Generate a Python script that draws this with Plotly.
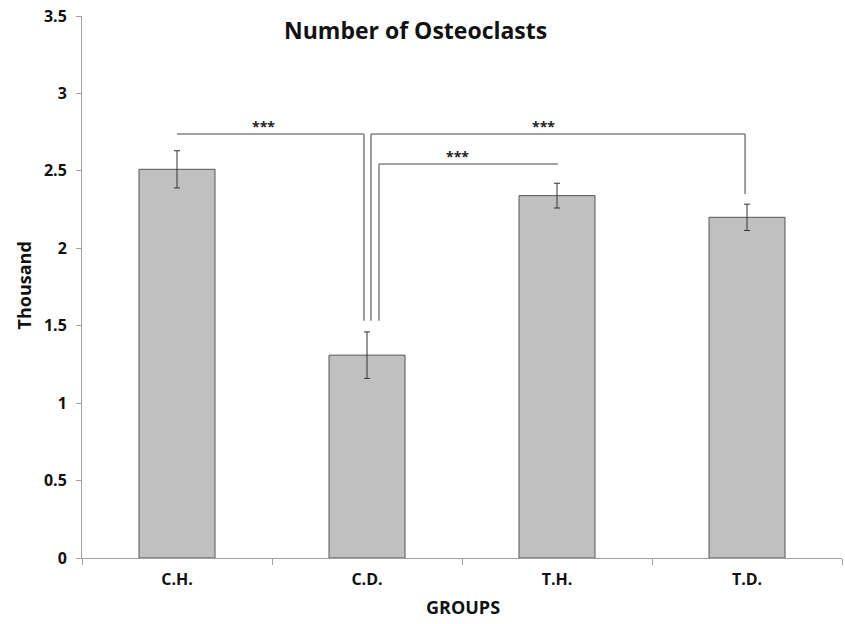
import plotly.graph_objects as go

groups = ["C.H.", "C.D.", "T.H.", "T.D."]
values = [2.51, 1.31, 2.34, 2.20]
errors = [0.12, 0.15, 0.08, 0.085]
y_ticks = [0, 0.5, 1, 1.5, 2, 2.5, 3, 3.5]
y_tick_labels = ["0", "0.5", "1", "1.5", "2", "2.5", "3", "3.5"]

# significance brackets
brk_from = [0, 1, 1]
brk_to = [1, 3, 2]
brk_height = [2.738, 2.738, 2.544]
brk_low_from = [None, 1.532, 1.532]
brk_low_to = [1.532, 2.35, None]
brk_label = ["***", "***", "***"]

W, H = 845, 624
L, R, T, B = 82, 3, 16, 66

fig = go.Figure()
fig.add_trace(go.Bar(
    x=groups, y=values,
    width=0.4,
    marker=dict(color="#c0c0c0", line=dict(color="#555555", width=1)),
    error_y=dict(type="data", array=errors, visible=True, color="#333333", thickness=1, width=3),
    showlegend=False,
))

line_style = dict(color="#858585", width=1.6)
off_from = [0.0, 0.021, 0.063]
off_to = [-0.016, -0.01, 0.005]
star_x_shift = [-0.039, -0.079, -0.06]
for i in range(len(brk_from)):
    xa = brk_from[i] + off_from[i]
    xb = brk_to[i] + off_to[i]
    h = brk_height[i]
    fig.add_shape(type="line", x0=xa, x1=xb, y0=h, y1=h, xref="x", yref="y", line=line_style)
    if brk_low_from[i] is not None:
        fig.add_shape(type="line", x0=xa, x1=xa, y0=h, y1=brk_low_from[i], xref="x", yref="y", line=line_style)
    if brk_low_to[i] is not None:
        fig.add_shape(type="line", x0=xb, x1=xb, y0=h, y1=brk_low_to[i], xref="x", yref="y", line=line_style)
    fig.add_annotation(x=(xa + xb) / 2 + star_x_shift[i], y=h, text="<b>" + brk_label[i] + "</b>",
                       showarrow=False, yanchor="middle", yshift=8, xref="x", yref="y",
                       font=dict(family="Open Sans", size=14, color="#222222"))

pw = W - L - R
ph = H - T - B


def px_x(px):
    return (px - L) / pw


def px_y(py):
    return (H - B - py) / ph


fig.add_annotation(x=px_x(415), y=px_y(30), xref="paper", yref="paper", text="<b>Number of Osteoclasts</b>",
                   showarrow=False, xanchor="center", yanchor="middle",
                   font=dict(family="Open Sans", size=23, color="#111111"))
fig.add_annotation(x=px_x(463), y=px_y(607), xref="paper", yref="paper", text="<b>GROUPS</b>",
                   showarrow=False, xanchor="center", yanchor="middle",
                   font=dict(family="Open Sans", size=18, color="#111111"))
fig.add_annotation(x=px_x(23.5), y=px_y(286), xref="paper", yref="paper", text="<b>Thousand</b>",
                   showarrow=False, xanchor="center", yanchor="middle", textangle=-90,
                   font=dict(family="Open Sans", size=18, color="#111111"))

fig.update_layout(
    width=W, height=H,
    margin=dict(l=L, r=R, t=T, b=B, autoexpand=False),
    paper_bgcolor="white", plot_bgcolor="white",
    font=dict(family="Open Sans", color="#111111"),
)

fig.update_xaxes(
    showline=True, linecolor="#a0a0a0", linewidth=1,
    ticks="outside", tickson="boundaries", ticklen=6, tickcolor="#a0a0a0",
    tickfont=dict(family="Open Sans", size=16, color="#111111"),
    tickvals=groups, ticktext=["<b>" + g + "</b>" for g in groups],
    ticklabelstandoff=7,
    showgrid=False, range=[-0.5, 3.5],
)
fig.update_yaxes(
    range=[0, 3.5], tickvals=y_ticks, ticktext=["<b>" + t + "</b>" for t in y_tick_labels],
    showline=True, linecolor="#a0a0a0", linewidth=1,
    ticks="outside", ticklen=5, tickcolor="#a0a0a0",
    tickfont=dict(family="Open Sans", size=16, color="#111111"),
    ticklabelstandoff=6,
    showgrid=False, zeroline=False,
)

fig.write_html("out.html",
               config={"displayModeBar": False},
               post_script="document.body.style.margin='0';document.body.style.padding='0';"
                           "document.documentElement.style.overflow='hidden';")
